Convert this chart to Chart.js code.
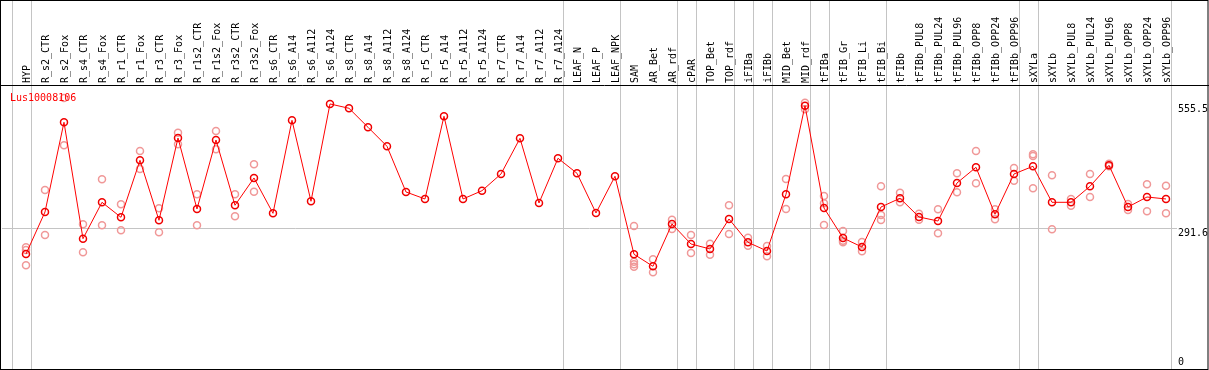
<!DOCTYPE html>
<html lang="en">
<head>
<meta charset="UTF-8" />
<title>Lus10008106</title>
<script src="https://cdn.jsdelivr.net/npm/chart.js"></script>
<style>
  html, body { margin: 0; padding: 0; background: #fff; }
  canvas { display: block; }
</style>
</head>
<body>
<canvas id="expr" width="1209" height="370"></canvas>
<script>
const geneName = 'Lus10008106';

const samples = [
  'HYP', 'R_s2_CTR', 'R_s2_Fox', 'R_s4_CTR', 'R_s4_Fox', 'R_r1_CTR', 'R_r1_Fox', 'R_r3_CTR', 'R_r3_Fox',
  'R_r1s2_CTR', 'R_r1s2_Fox', 'R_r3s2_CTR', 'R_r3s2_Fox', 'R_s6_CTR', 'R_s6_A14', 'R_s6_A112', 'R_s6_A124',
  'R_s8_CTR', 'R_s8_A14', 'R_s8_A112', 'R_s8_A124', 'R_r5_CTR', 'R_r5_A14', 'R_r5_A112', 'R_r5_A124',
  'R_r7_CTR', 'R_r7_A14', 'R_r7_A112', 'R_r7_A124', 'LEAF_N', 'LEAF_P', 'LEAF_NPK', 'SAM', 'AR_Bet', 'AR_rdf',
  'cPAR', 'TOP_Bet', 'TOP_rdf', 'iFIBa', 'iFIBb', 'MID_Bet', 'MID_rdf', 'tFIBa', 'tFIB_Gr', 'tFIB_Li', 'tFIB_Bi',
  'tFIBb', 'tFIBb_PUL8', 'tFIBb_PUL24', 'tFIBb_PUL96', 'tFIBb_OPP8', 'tFIBb_OPP24', 'tFIBb_OPP96',
  'sXYLa', 'sXYLb', 'sXYLb_PUL8', 'sXYLb_PUL24', 'sXYLb_PUL96', 'sXYLb_OPP8', 'sXYLb_OPP24', 'sXYLb_OPP96'
];

// mean expression per sample
const means = [
  236.2, 325.6, 516.5, 268.8, 346.2, 314.3, 435.6, 307.9, 483.1, 332.0,
  478.8, 339.9, 398.0, 322.8, 520.7, 348.4, 555.5, 546.3, 505.9, 465.4,
  368.2, 353.3, 529.3, 353.3, 370.9, 406.5, 482.4, 344.8, 439.9, 408.0,
  323.5, 401.6, 235.6, 210.0, 300.1, 257.5, 246.9, 310.7, 261.1, 242.6,
  363.3, 551.8, 334.1, 270.3, 251.1, 336.2, 354.8, 315.0, 306.4, 387.3,
  420.7, 320.7, 406.5, 422.9, 346.2, 346.2, 380.3, 425.0, 336.2, 357.5, 353.3
];

// individual replicates per sample
const replicates = [
  [250.5, 244.7, 212.2], [372.4, 276.7], [568.2, 467.6], [299.4, 239.8], [395.2, 297.3],
  [342.0, 286.7], [455.4, 417.1], [333.5, 282.4], [494.4, 469.7], [363.3, 297.3],
  [498.0, 459.0], [363.3, 316.4], [427.1, 368.8],
  [], [], [], [], [], [], [], [], [], [], [], [], [], [], [], [], [], [], [],
  [295.8, 219.8, 214.3, 209.2], [224.9, 197.3], [309.2, 289.4], [276.7, 238.3], [258.1, 234.7],
  [339.9, 278.8], [270.9, 253.9], [253.2, 231.3], [395.8, 332.0], [558.2, 544.2],
  [359.7, 344.1, 297.9], [285.2, 264.5, 261.1], [261.8, 242.0], [380.3, 319.2, 308.6],
  [366.7, 346.2], [322.0, 309.2], [331.3, 280.3], [408.0, 367.5], [455.4, 386.7],
  [331.3, 310.1], [419.2, 392.2], [448.4, 444.8, 376.0], [403.7, 288.8], [353.3, 339.0],
  [406.5, 357.5], [428.4, 422.9], [342.6, 329.9], [384.6, 327.1], [381.6, 322.8]
];

// a divider is drawn after each of these sample indexes
const groupEnds = [-1, 0, 28, 31, 34, 35, 37, 38, 39, 41, 42, 45, 52, 53, 60];
const yTicks = ['0', '291.6', '555.5'];
const gridValue = 291.6;

const FONT = '10px "DejaVu Sans Mono", monospace';

const meanPoints = means.map((v, i) => ({ x: i, y: v }));
const repPoints = [];
replicates.forEach((list, i) => list.forEach(v => repPoints.push({ x: i, y: v })));

const framePlugin = {
  id: 'frame',
  beforeDatasetsDraw(chart) {
    const ctx = chart.ctx;
    const xs = chart.scales.x, ys = chart.scales.y;
    const area = chart.chartArea;
    ctx.save();
    ctx.strokeStyle = '#c4c4c4';
    ctx.lineWidth = 1;
    // horizontal grid
    const gy = Math.round(ys.getPixelForValue(gridValue)) + 0.5;
    ctx.beginPath();
    ctx.moveTo(area.left, gy);
    ctx.lineTo(area.right, gy);
    ctx.stroke();
    // group dividers
    groupEnds.forEach(i => {
      const px = Math.round(xs.getPixelForValue(i + 0.25)) + 0.5;
      ctx.beginPath();
      ctx.moveTo(px, 0);
      ctx.lineTo(px, chart.height);
      ctx.stroke();
    });
    ctx.restore();
  },
  afterDraw(chart) {
    const ctx = chart.ctx;
    const xs = chart.scales.x, ys = chart.scales.y;
    ctx.save();
    ctx.font = FONT;
    // sample names, rotated
    ctx.fillStyle = '#000';
    ctx.textAlign = 'left';
    ctx.textBaseline = 'alphabetic';
    samples.forEach((name, i) => {
      const px = xs.getPixelForValue(i) + 4;
      ctx.save();
      ctx.translate(px, 83);
      ctx.rotate(-Math.PI / 2);
      ctx.fillText(name, 0, 0);
      ctx.restore();
    });
    // y tick labels on the right
    yTicks.forEach(t => {
      const py = ys.getPixelForValue(parseFloat(t));
      const by = parseFloat(t) === 0 ? py : py + 8.5;
      ctx.fillText(t, 1178, by);
    });
    // gene name
    ctx.fillStyle = '#ff0000';
    ctx.fillText(geneName, 10, 101);
    // frame
    ctx.strokeStyle = '#000';
    ctx.lineWidth = 1;
    ctx.strokeRect(0.5, 0.5, chart.width - 1.5, chart.height - 1);
    ctx.beginPath();
    ctx.moveTo(0, 85.5);
    ctx.lineTo(chart.width, 85.5);
    ctx.stroke();
    ctx.restore();
  }
};

new Chart(document.getElementById('expr'), {
  type: 'scatter',
  data: {
    datasets: [
      {
        label: 'mean',
        data: meanPoints,
        showLine: true,
        borderColor: '#ff0000',
        borderWidth: 1,
        pointStyle: 'circle',
        pointRadius: 3.5,
        pointBorderWidth: 1.5,
        pointBorderColor: '#f00000',
        pointBackgroundColor: 'rgba(0,0,0,0)'
      },
      {
        label: 'replicates',
        data: repPoints,
        showLine: false,
        pointStyle: 'circle',
        pointRadius: 3.5,
        pointBorderWidth: 1.5,
        pointBorderColor: '#f09898',
        pointBackgroundColor: 'rgba(0,0,0,0)'
      }
    ]
  },
  options: {
    responsive: false,
    devicePixelRatio: 1,
    animation: false,
    layout: { autoPadding: false, padding: { left: 2, right: 32, top: 86, bottom: 1 } },
    plugins: { legend: { display: false }, tooltip: { enabled: false } },
    scales: {
      x: { type: 'linear', display: false, min: -1.263, max: 60.579 },
      y: { type: 'linear', display: false, min: -8.5, max: 593.7 }
    }
  },
  plugins: [framePlugin]
});
</script>
</body>
</html>
